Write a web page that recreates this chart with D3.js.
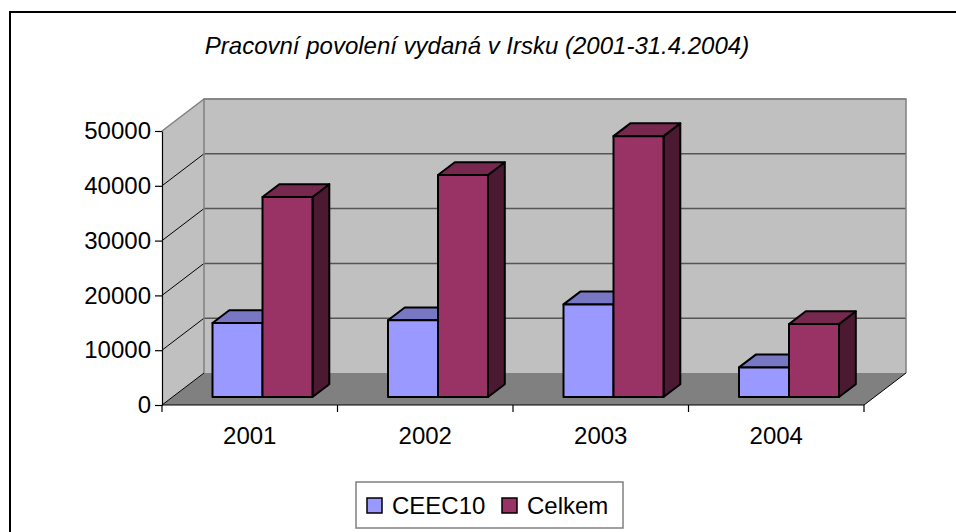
<!DOCTYPE html>
<html>
<head>
<meta charset="utf-8">
<script src="https://cdn.jsdelivr.net/npm/d3@7"></script>
<style>
  body { margin: 0; background: #fff; }
  svg { display: block; font-family: Arial, "Liberation Sans", sans-serif; }
</style>
</head>
<body>
<svg id="chart" width="956" height="532"></svg>
<script>
// data
const categories = ["2001", "2002", "2003", "2004"];
const series = ["CEEC10", "Celkem"];
const ceec10 = [13500, 14000, 16900, 5400];
const celkem = [36500, 40500, 47600, 13300];
const yTicks = [0, 10000, 20000, 30000, 40000, 50000];
const title = "Pracovní povolení vydaná v Irsku (2001-31.4.2004)";

const colors = {
    CEEC10: { front: "#9999ff", top: "#7777c4", side: "#4c4c80" },
    Celkem: { front: "#993366", top: "#77284f", side: "#4c1933" }
};

const svg = d3.select("#chart");

// outer frame (runs off the right / bottom edge)
svg.append("rect")
    .attr("x", 10).attr("y", 12)
    .attr("width", 960).attr("height", 540)
    .attr("fill", "#fff")
    .attr("stroke", "#000").attr("stroke-width", 2);

svg.append("text")
    .attr("x", 477).attr("y", 54)
    .attr("text-anchor", "middle")
    .style("font-style", "italic")
    .style("font-size", "24px")
    .text(title);

// 3d box
let left = 162, right = 864,
    depthX = 42, depthY = -32;

let x0 = d3.scaleBand().domain(categories).range([left, right]);
let x1 = d3.scaleBand().domain(series).range([40, 140]);
let y = d3.scaleLinear().domain([0, 50000]).range([405, 131]);

let yBottom = y(0), yTop = y(50000);
let pts = a => a.map(p => p.join(",")).join(" ");

let box = svg.append("g");

// back wall
box.append("polygon")
    .attr("points", pts([[left + depthX, yTop + depthY], [right + depthX, yTop + depthY],
                         [right + depthX, yBottom + depthY], [left + depthX, yBottom + depthY]]))
    .attr("fill", "#c0c0c0");
// left wall
box.append("polygon")
    .attr("points", pts([[left, yTop], [left + depthX, yTop + depthY],
                         [left + depthX, yBottom + depthY], [left, yBottom]]))
    .attr("fill", "#c0c0c0");
// floor
box.append("polygon")
    .attr("points", pts([[left, yBottom], [right, yBottom],
                         [right + depthX, yBottom + depthY], [left + depthX, yBottom + depthY]]))
    .attr("fill", "#808080");

// gridlines on back wall
box.selectAll("line.grid")
    .data(yTicks.filter(d => d > 0))
    .enter().append("line")
    .attr("class", "grid")
    .attr("x1", left + depthX).attr("x2", right + depthX)
    .attr("y1", d => y(d) + depthY).attr("y2", d => y(d) + depthY)
    .attr("stroke", d => d === 50000 ? "#808080" : "#555")
    .attr("stroke-width", 1.5);

// diagonals on left wall
box.selectAll("line.diag")
    .data(yTicks)
    .enter().append("line")
    .attr("class", "diag")
    .attr("x1", left).attr("y1", d => y(d))
    .attr("x2", left + depthX).attr("y2", d => y(d) + depthY)
    .attr("stroke", d => d === 50000 ? "#808080" : "#000")
    .attr("stroke-width", d => d === 50000 ? 1.5 : 1);

// wall edges
box.append("polyline")
    .attr("points", pts([[left + depthX, yBottom + depthY], [left + depthX, yTop + depthY],
                         [right + depthX, yTop + depthY], [right + depthX, yBottom + depthY]]))
    .attr("fill", "none").attr("stroke", "#808080").attr("stroke-width", 1.5);

// floor edges
box.append("polyline")
    .attr("points", pts([[left, yBottom], [right, yBottom], [right + depthX, yBottom + depthY]]))
    .attr("fill", "none").attr("stroke", "#000").attr("stroke-width", 1);

// bars
let fFront = 0.25, fBack = 0.65;
let bars = [];
categories.forEach((c, i) => {
    bars.push({ cat: c, s: "CEEC10", v: ceec10[i] });
    bars.push({ cat: c, s: "Celkem", v: celkem[i] });
});

let barG = svg.append("g")
    .selectAll("g")
    .data(bars)
    .enter().append("g")
    .attr("stroke", "#000")
    .attr("stroke-width", 2)
    .attr("stroke-linejoin", "round");

barG.each(function (d) {
    let g = d3.select(this);
    let fx = x0(d.cat) + x1(d.s) + depthX * fFront;
    let w = x1.bandwidth();
    let by = y(0) + depthY * fFront;
    let ty = by - (y(0) - y(d.v));
    let dx = depthX * (fBack - fFront), dy = depthY * (fBack - fFront);
    let col = colors[d.s];

    g.append("polygon")
        .attr("points", pts([[fx + w, ty], [fx + w + dx, ty + dy], [fx + w + dx, by + dy], [fx + w, by]]))
        .attr("fill", col.side);
    g.append("polygon")
        .attr("points", pts([[fx, ty], [fx + dx, ty + dy], [fx + w + dx, ty + dy], [fx + w, ty]]))
        .attr("fill", col.top);
    g.append("rect")
        .attr("x", fx).attr("y", ty)
        .attr("width", w).attr("height", by - ty)
        .attr("fill", col.front);
});

// value axis
let yAxis = svg.append("g")
    .attr("transform", `translate(${left},0)`)
    .call(d3.axisLeft(y).tickValues(yTicks).tickSize(7).tickSizeOuter(0).tickPadding(4).tickFormat(d3.format("d")));
yAxis.selectAll("text").style("font-size", "24px").attr("fill", "#000");
yAxis.selectAll("line, path").attr("stroke", "#000").attr("stroke-width", 1.2);

// category axis
let xAxis = svg.append("g")
    .attr("transform", `translate(0,${yBottom})`)
    .call(d3.axisBottom(x0).tickSize(0).tickPadding(22));
xAxis.select(".domain").remove();
xAxis.selectAll("text").style("font-size", "24px").attr("fill", "#000");

xAxis.selectAll("line.sep")
    .data(categories.map(c => x0(c)).concat([right]))
    .enter().append("line")
    .attr("class", "sep")
    .attr("x1", d => d).attr("x2", d => d)
    .attr("y1", 0).attr("y2", 7)
    .attr("stroke", "#000").attr("stroke-width", 1.2);

// legend
let legend = svg.append("g");
legend.append("rect")
    .attr("x", 356).attr("y", 482)
    .attr("width", 267).attr("height", 46)
    .attr("fill", "#fff")
    .attr("stroke", "#808080").attr("stroke-width", 1.5);

let legendX = d3.scaleOrdinal().domain(series).range([367, 502]);
let item = legend.selectAll("g.item")
    .data(series)
    .enter().append("g")
    .attr("class", "item")
    .attr("transform", d => `translate(${legendX(d)},505)`);
item.append("rect")
    .attr("x", 0).attr("y", -7)
    .attr("width", 15).attr("height", 15)
    .attr("fill", d => colors[d].front)
    .attr("stroke", "#000").attr("stroke-width", 1.5);
item.append("text")
    .attr("x", 25).attr("y", 9)
    .style("font-size", "24px")
    .text(d => d);
</script>
</body>
</html>
